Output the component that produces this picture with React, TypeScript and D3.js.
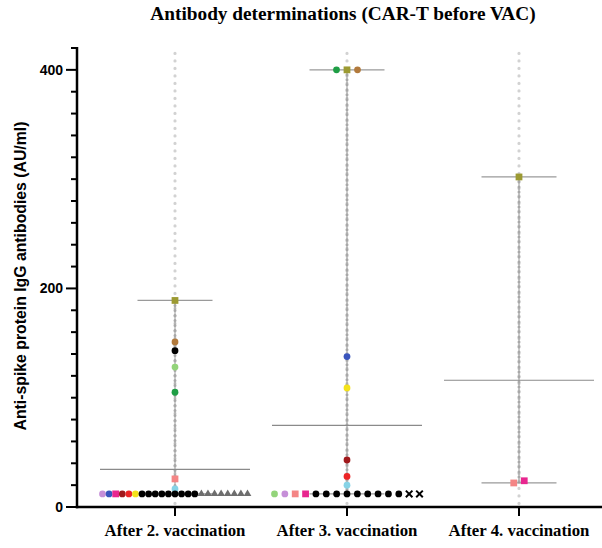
import React from 'react';
import * as d3 from 'd3';

// marker styles (colour + shape) keyed by patient
const markers: Record<string, { fill: string; shape: string }> = {
  purple: { fill: '#c68fd8', shape: 'circle' },
  blue: { fill: '#3a55bd', shape: 'circle' },
  magenta: { fill: '#e8268f', shape: 'square' },
  darkred: { fill: '#a0191c', shape: 'circle' },
  red: { fill: '#ec2426', shape: 'circle' },
  yellow: { fill: '#f4e21a', shape: 'circle' },
  black: { fill: '#000000', shape: 'circle' },
  tri: { fill: '#6e6e6e', shape: 'triangle' },
  olive: { fill: '#9c9a32', shape: 'square' },
  brown: { fill: '#b27a3c', shape: 'circle' },
  lightgreen: { fill: '#93d47a', shape: 'circle' },
  green: { fill: '#1f9e45', shape: 'circle' },
  salmon: { fill: '#f48585', shape: 'square' },
  lightblue: { fill: '#86d3e6', shape: 'circle' },
  cross: { fill: '#000000', shape: 'x' },
};

const categories = ['After 2. vaccination', 'After 3. vaccination', 'After 4. vaccination'];

// [marker, AU/ml] — points at the same level listed left to right
const vac2: [string, number][] = [
  ['olive', 189], ['brown', 151], ['black', 143], ['lightgreen', 128], ['green', 105],
  ['salmon', 25.7], ['lightblue', 16.5],
  ['purple', 12], ['blue', 12], ['magenta', 12], ['darkred', 12], ['red', 12], ['yellow', 12],
  ['black', 12], ['black', 12], ['black', 12], ['black', 12], ['black', 12], ['black', 12],
  ['black', 12], ['black', 12], ['black', 12],
  ['tri', 12], ['tri', 12], ['tri', 12], ['tri', 12], ['tri', 12], ['tri', 12], ['tri', 12], ['tri', 12],
];

const vac3: [string, number][] = [
  ['green', 400], ['olive', 400], ['brown', 400],
  ['blue', 137.6], ['yellow', 109], ['darkred', 43], ['red', 28], ['lightblue', 20],
  ['lightgreen', 12], ['purple', 12], ['salmon', 12], ['magenta', 12],
  ['black', 12], ['black', 12], ['black', 12], ['black', 12], ['black', 12],
  ['black', 12], ['black', 12], ['black', 12], ['black', 12],
  ['cross', 12], ['cross', 12],
];

const vac4: [string, number][] = [
  ['olive', 302], ['salmon', 22], ['magenta', 24],
];

const groups = [vac2, vac3, vac4];
const yTicks = [0, 200, 400];

const W = 602,
  H = 548;
const margin = { top: 48, bottom: 41, left: 77, right: 0 };

export default function App() {
  const y = d3.scaleLinear().domain([0, 420]).range([H - margin.bottom, margin.top]);
  const x = d3.scalePoint<string>().domain(categories).range([175, 519]);
  const minorTicks = d3.range(0, 421, 20);

  const symbolFor = (shape: string) => {
    if (shape === 'square') return d3.symbol(d3.symbolSquare, 46)();
    if (shape === 'triangle') return d3.symbol(d3.symbolTriangle, 26)();
    if (shape === 'x') return d3.symbol(d3.symbolX, 30)();
    return d3.symbol(d3.symbolCircle, 36)();
  };

  // simple swarm: points whose values are close share a row
  const layout = (pts: [string, number][], cx: number) => {
    const out: { m: string; v: number; px: number }[] = [];
    const used = new Array(pts.length).fill(false);
    pts.forEach((p, i) => {
      if (used[i]) return;
      const row = pts.map((q, j) => j).filter((j) => !used[j] && Math.abs(pts[j][1] - p[1]) < 3);
      row.forEach((j) => (used[j] = true));
      const step = row.length > 1 ? Math.min(10.5, 145 / (row.length - 1)) : 0;
      row.forEach((j, k) => {
        out.push({ m: pts[j][0], v: pts[j][1], px: cx + (k - (row.length - 1) / 2) * step });
      });
    });
    return out;
  };

  return (
    <svg width={W} height={H} style={{ position: 'absolute', left: 0, top: 0, background: '#fff' }}>
      <text
        x={343}
        y={20}
        textAnchor="middle"
        fontFamily="'Liberation Serif', serif"
        fontWeight="bold"
        fontSize={19.3}
      >
        Antibody determinations (CAR-T before VAC)
      </text>

      {groups.map((pts, gi) => {
        const cx = x(categories[gi])!;
        const vals = pts.map((p) => p[1]);
        const mean = d3.mean(vals)!;
        const lo = d3.min(vals)!;
        const hi = d3.max(vals)!;
        return (
          <g key={gi}>
            {/* light dotted guide */}
            <line
              x1={cx}
              x2={cx}
              y1={y(415)}
              y2={y(-2)}
              stroke="#d2d2d2"
              strokeWidth={3.2}
              strokeLinecap="round"
              strokeDasharray="0,7.5"
            />
            {/* range */}
            <line x1={cx} x2={cx} y1={y(hi)} y2={y(lo)} stroke="#9a9a9a" strokeWidth={1} />
            <line
              x1={cx}
              x2={cx}
              y1={y(hi)}
              y2={y(lo)}
              stroke="#a8a8a8"
              strokeWidth={3}
              strokeLinecap="round"
              strokeDasharray="0,5"
            />
            <line x1={cx - 37.5} x2={cx + 37.5} y1={y(hi)} y2={y(hi)} stroke="#9a9a9a" strokeWidth={1.2} />
            <line x1={cx - 37.5} x2={cx + 37.5} y1={y(lo)} y2={y(lo)} stroke="#9a9a9a" strokeWidth={1.2} />
            <line x1={cx - 75} x2={cx + 75} y1={y(mean)} y2={y(mean)} stroke="#8a8a8a" strokeWidth={1.2} />
            {layout(pts, cx).map((p, i) => {
              const mk = markers[p.m];
              return mk.shape === 'x' ? (
                <path
                  key={i}
                  d={symbolFor('x')!}
                  transform={`translate(${p.px},${y(p.v)})`}
                  fill="none"
                  stroke={mk.fill}
                  strokeWidth={2}
                />
              ) : (
                <path key={i} d={symbolFor(mk.shape)!} transform={`translate(${p.px},${y(p.v)})`} fill={mk.fill} />
              );
            })}
          </g>
        );
      })}

      {/* y axis */}
      <g>
        {minorTicks.map((t) => (
          <line
            key={t}
            x1={margin.left}
            x2={margin.left - (t % 200 === 0 ? 11 : 6)}
            y1={y(t)}
            y2={y(t)}
            stroke="#000"
            strokeWidth={2}
          />
        ))}
        <line x1={margin.left} x2={margin.left} y1={y(420) - 1} y2={y(0) + 1.2} stroke="#000" strokeWidth={2.5} />
        {yTicks.map((t) => (
          <text
            key={t}
            x={margin.left - 14}
            y={y(t)}
            dy="0.35em"
            textAnchor="end"
            fontFamily="'Liberation Sans', Arial, sans-serif"
            fontWeight="bold"
            fontSize={14}
          >
            {t}
          </text>
        ))}
        <text
          transform={`translate(26,276) rotate(-90)`}
          textAnchor="middle"
          fontFamily="'Liberation Sans', Arial, sans-serif"
          fontWeight="bold"
          fontSize={15.8}
        >
          Anti-spike protein IgG antibodies (AU/ml)
        </text>
      </g>

      {/* x axis */}
      <g>
        <line x1={margin.left - 1.2} x2={W} y1={y(0)} y2={y(0)} stroke="#000" strokeWidth={2.5} />
        {categories.map((c) => (
          <g key={c}>
            <line x1={x(c)} x2={x(c)} y1={y(0)} y2={y(0) + 9} stroke="#000" strokeWidth={2} />
            <text
              x={x(c)}
              y={536}
              textAnchor="middle"
              fontFamily="'Liberation Serif', serif"
              fontWeight="bold"
              fontSize={16.8}
            >
              {c}
            </text>
          </g>
        ))}
      </g>
    </svg>
  );
}
